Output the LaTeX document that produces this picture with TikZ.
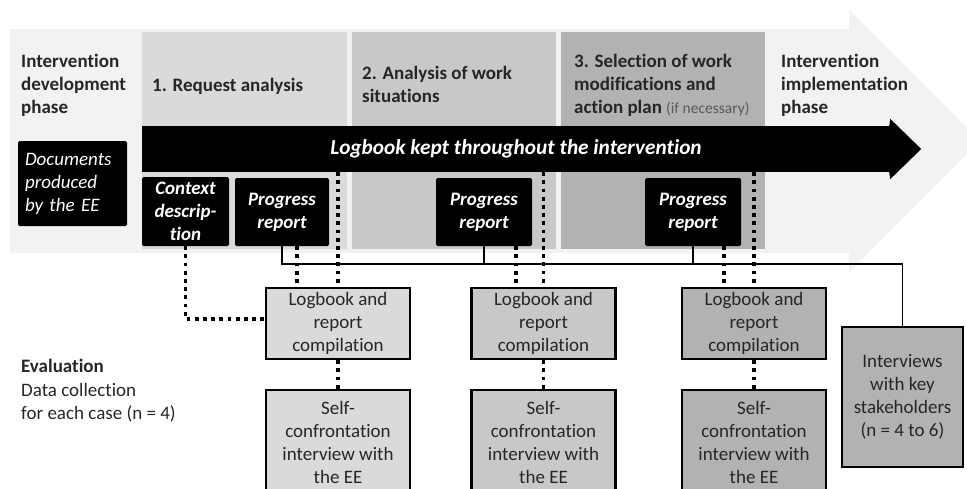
\documentclass[tikz,border=0pt]{standalone}
\usepackage{fontspec}
\setmainfont{Carlito}[Ligatures=NoCommon, RawFeature={-liga;-dlig;-clig}]
\usetikzlibrary{calc}

\definecolor{bgarrow}{HTML}{F2F2F2}
\definecolor{phaseA}{HTML}{DADADA}
\definecolor{phaseB}{HTML}{C8C8C8}
\definecolor{phaseC}{HTML}{B2B2B2}
\definecolor{ink}{HTML}{262626}
\definecolor{note}{HTML}{595959}

\tikzset{
  heading/.style={anchor=north west, inner sep=0pt, align=left, text=ink,
    font=\fontsize{19}{23}\selectfont\bfseries},
  docbox/.style={fill=black, text=white, rounded corners=1.5pt, inner sep=0pt,
    align=center, font=\fontsize{19}{23}\selectfont\bfseries\itshape},
  evalbox/.style={draw=black, line width=2.5pt, inner sep=0pt, align=center,
    text=ink, font=\fontsize{19}{23}\selectfont, minimum width=144pt},
  dots/.style={line width=3.5pt, dash pattern=on 3.8pt off 4.4pt},
  link/.style={line width=1.3pt},
}

\begin{document}
\begin{tikzpicture}[x=1pt,y=-1pt]
\useasboundingbox (0,0) rectangle (967,488);
\clip (0,0) rectangle (967,488);

% overall process arrow
\fill[bgarrow] (10,29) -- (849,29) -- (849,10) -- (980,141) -- (849,272)
  -- (849,253) -- (10,253) -- cycle;

% the three intervention steps
\fill[phaseA] (142,32) rectangle (347,249);
\fill[phaseB] (352,32) rectangle (556,249);
\fill[phaseC] (561,32) rectangle (765,249);

% phase titles
\node[heading] (devphase) at (21,50.9) {\strut Intervention\\development\\phase};
\node[heading] (step1) at (152,74.9) {\strut 1. Request analysis};
\node[heading] (step2) at (362,62.9) {\strut 2. Analysis of work\\situations};
\node[heading] (step3) at (574,50.9) {\strut 3. Selection of work\\modifications and\\action plan
  {\mdseries\color{note}\fontsize{15.5}{23}\selectfont(if necessary)}};
\node[heading] (impphase) at (781,50.9) {\strut Intervention\\implementation\\phase};

% logbook arrow
\node[fill=black, minimum width=748pt, minimum height=46pt, inner sep=0pt,
  text=white, font=\fontsize{21.3}{24}\selectfont\bfseries\itshape]
  (logbar) at (516,149) {Logbook kept throughout the intervention};
\fill ([xshift=-1pt]logbar.north east) -- ([yshift=7pt]logbar.north east)
  -- ($(logbar.east)+(31,0)$) -- ([yshift=-7pt]logbar.south east)
  -- ([xshift=-1pt]logbar.south east) -- cycle;

% documents produced by the EE
\node[docbox, font=\fontsize{19}{23}\selectfont\itshape, align=left,
  minimum width=109pt, minimum height=85pt, text width=95pt]
  (docs) at (72.5,183.5) {Documents\\produced\\by the EE};
\node[docbox, minimum width=87pt, minimum height=69pt]
  (ctx) at (185.5,211.5) {Context\\descrip-\\tion};
\node[docbox, minimum width=94pt, minimum height=68pt]
  (pr1) at (282,212) {Progress\\report};
\node[docbox, minimum width=96pt, minimum height=68pt]
  (pr2) at (484,212) {Progress\\report};
\node[docbox, minimum width=96pt, minimum height=68pt]
  (pr3) at (693,212) {Progress\\report};

% evaluation
\node[heading, font=\fontsize{19}{23.5}\selectfont] (evalhead) at (21,355.9)
  {\strut\textbf{Evaluation}\\Data collection\\for each case (n = 4)};

\node[evalbox, fill=phaseA, minimum height=71pt] (log1) at (338,323.5)
  {Logbook and\\report\\compilation};
\node[evalbox, fill=phaseB, minimum height=71pt] (log2) at (543.5,323.5)
  {Logbook and\\report\\compilation};
\node[evalbox, fill=phaseC, minimum height=71pt] (log3) at (754,323.5)
  {Logbook and\\report\\compilation};

\node[evalbox, fill=phaseA, minimum height=104pt] (self1) at (338,442)
  {Self-\\confrontation\\interview with\\the EE};
\node[evalbox, fill=phaseB, minimum height=104pt] (self2) at (543.5,442)
  {Self-\\confrontation\\interview with\\the EE};
\node[evalbox, fill=phaseC, minimum height=104pt] (self3) at (754,442)
  {Self-\\confrontation\\interview with\\the EE};

\node[evalbox, line width=1.5pt, fill=phaseC, minimum width=121pt,
  minimum height=140pt] (intv) at (902.5,397)
  {Interviews\\with key\\stakeholders\\(n = 4 to 6)};

% solid links from the progress reports to the stakeholder interviews
\coordinate (bus) at (0,264);
\draw[link] (pr1.south) |- (intv.north |- bus) -- (intv.north);
\draw[link] (pr2.south) -- (pr2.south |- bus);
\draw[link] (pr3.south) -- (pr3.south |- bus);

% dotted links: logbook to compilations
\draw[dots] (log1.north |- logbar.south) -- (log1.north);
\draw[dots] (log2.north |- logbar.south) -- (log2.north);
\draw[dots] (log3.north |- logbar.south) -- (log3.north);

% dotted links: progress reports to compilations
\path ($(pr1.south)+(15,0)$) coordinate (d1)
      ($(pr2.south)+(32,0)$) coordinate (d2)
      ($(pr3.south)+(31,0)$) coordinate (d3);
\draw[dots] (d1) -- (d1 |- log1.north);
\draw[dots] (d2) -- (d2 |- log2.north);
\draw[dots] (d3) -- (d3 |- log3.north);

% dotted links: compilations to self-confrontation interviews
\draw[dots] (log1.south) -- (self1.north);
\draw[dots] (log2.south) -- (self2.north);
\draw[dots] (log3.south) -- (self3.north);

% context description feeds the first compilation
\draw[dots] (ctx.south) |- ([yshift=4.5pt]log1.west);
\end{tikzpicture}
\end{document}
